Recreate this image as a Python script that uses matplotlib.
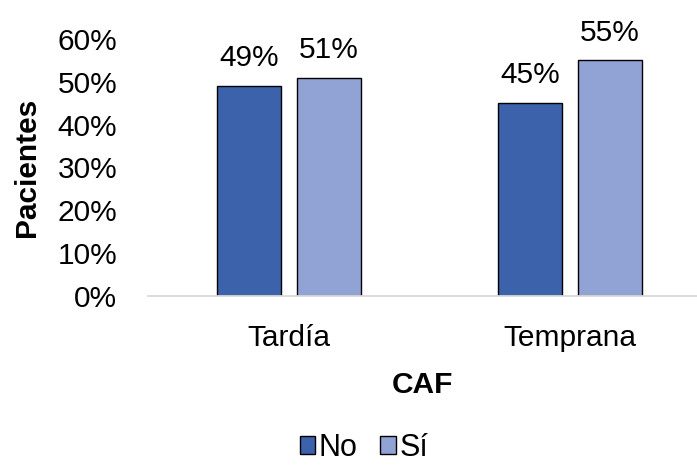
import matplotlib

matplotlib.use("Agg")
import matplotlib.pyplot as plt
from matplotlib.ticker import PercentFormatter

plt.rcParams["font.family"] = ["Liberation Sans", "DejaVu Sans"]

categories = ["Tardía", "Temprana"]
series_names = ["No", "Sí"]
no_values = [0.49, 0.45]
si_values = [0.51, 0.55]
y_ticks = [0.0, 0.1, 0.2, 0.3, 0.4, 0.5, 0.6]

COLORS = ["#3b62ab", "#90a3d4"]
FS = 21.5

fig = plt.figure(figsize=(6.97, 4.65), dpi=100)
ax = fig.add_axes([148 / 697, 169 / 465, 549 / 697, 257 / 465])

x = range(len(categories))
width = 0.228
offset = 0.142
for vals, name, color, sign in [(no_values, series_names[0], COLORS[0], -1),
                                (si_values, series_names[1], COLORS[1], 1)]:
    bars = ax.bar([i + sign * offset for i in x], vals, width, color=color,
                  edgecolor="black", linewidth=1.0, label=name)
    for b, v in zip(bars, vals):
        ax.annotate(f"{v:.0%}", (b.get_x() + b.get_width() / 2, v),
                    xytext=(0, 10), textcoords="offset points",
                    ha="center", va="bottom", fontsize=FS)

ax.set_xlim(-0.5018, 1.452)
ax.set_ylim(0, 0.6)
ax.set_yticks(y_ticks)
ax.yaxis.set_major_formatter(PercentFormatter(1.0, decimals=0))
ax.set_xticks(list(x))
ax.set_xticklabels(categories)
ax.tick_params(axis="both", length=0, labelsize=FS)
ax.tick_params(axis="y", pad=22)
ax.tick_params(axis="x", pad=20)

for s in ["top", "right", "left"]:
    ax.spines[s].set_visible(False)
ax.spines["bottom"].set_color("#d9d9d9")
ax.spines["bottom"].set_linewidth(1.3)

ax.set_ylabel("Pacientes", fontsize=FS, fontweight="bold", labelpad=12)
ax.set_xlabel("CAF", fontsize=FS, fontweight="bold", labelpad=14)

# legend sits at the very bottom edge, as in the original
fig.legend(loc="center", bbox_to_anchor=(364 / 697, 1 - 448 / 465), ncol=2,
           frameon=False, fontsize=22, handlelength=0.5, handleheight=0.5,
           handletextpad=0.12, columnspacing=0.75, borderpad=0.2)

fig.savefig("out.png", dpi=100)
plt.close(fig)
